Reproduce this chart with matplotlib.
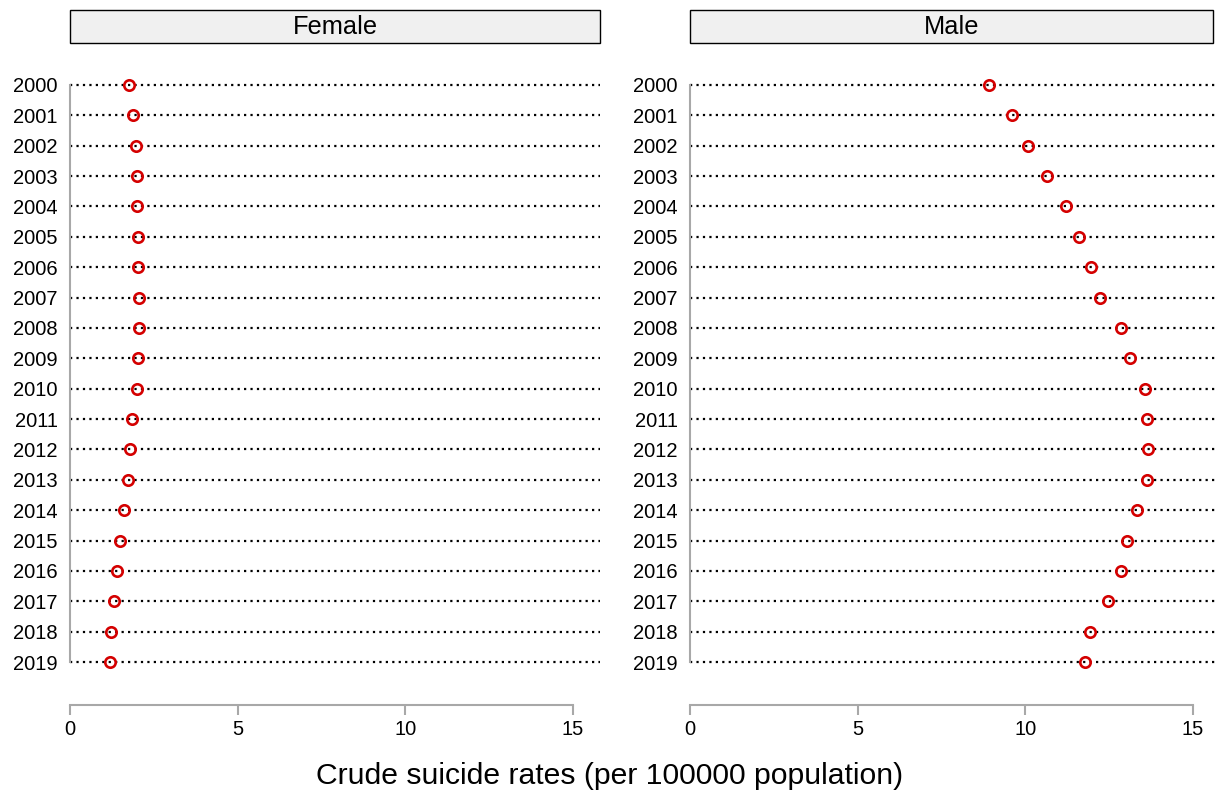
import matplotlib
matplotlib.use("Agg")
import matplotlib.pyplot as plt
from matplotlib.patches import Rectangle

plt.rcParams['font.family'] = ['Liberation Sans', 'DejaVu Sans']

years = [str(y) for y in range(2000, 2020)]
female_rates = [1.77, 1.89, 1.96, 1.99, 2.00, 2.02, 2.04, 2.07, 2.06, 2.02,
                1.99, 1.85, 1.80, 1.73, 1.60, 1.48, 1.41, 1.32, 1.23, 1.20]
male_rates = [8.92, 9.60, 10.09, 10.65, 11.21, 11.59, 11.96, 12.24, 12.84, 13.13,
              13.57, 13.64, 13.67, 13.62, 13.32, 13.02, 12.86, 12.46, 11.93, 11.78]
panels = ["Female", "Male"]
x_ticks = [0, 5, 10, 15]
x_label = "Crude suicide rates (per 100000 population)"

W, H = 1215, 793
fig = plt.figure(figsize=(W / 100, H / 100), dpi=100)

px_per_unit = (573 - 70) / 15.0
row_top, row_step = 85, (662 - 85) / 19.0
ax_top_px, ax_bot_px = 68, 705

panel_x = [(70, 600), (690, 1215)]

for name, rates, (x0, x1) in zip(panels, [female_rates, male_rates], panel_x):
    ax = fig.add_axes([x0 / W, 1 - ax_bot_px / H, (x1 - x0) / W, (ax_bot_px - ax_top_px) / H])
    n = len(years)
    pos = list(range(n))
    ax.set_xlim(0, (x1 - x0) / px_per_unit)
    ax.set_ylim((ax_bot_px - row_top) / row_step, (ax_top_px - row_top) / row_step)
    for p in pos:
        ax.axhline(p, color='black', lw=1.6, ls=(0, (1, 1.9)), zorder=1)
    ax.plot(rates, pos, 'o', ms=7.5, mfc='none', mec='#d40000', mew=1.9, zorder=3,
            clip_on=False)

    for s in ['top', 'right']:
        ax.spines[s].set_visible(False)
    ax.spines['left'].set_bounds(0, n - 1)
    ax.spines['bottom'].set_bounds(0, 15)
    for s in ['left', 'bottom']:
        ax.spines[s].set_color('#a8a8a8')
        ax.spines[s].set_linewidth(1.5)

    ax.set_yticks(pos)
    ax.set_yticklabels(years, fontsize=14.5)
    ax.tick_params(axis='y', length=0, pad=9)
    ax.set_xticks(x_ticks)
    ax.set_xticklabels([str(t) for t in x_ticks], fontsize=14.5)
    ax.tick_params(axis='x', length=7, width=1.5, color='#a8a8a8', pad=4)

    # strip header
    fig.patches.append(Rectangle((x0 / W, 1 - 43 / H), (min(x1, 1213) - x0) / W, 33 / H,
                                 transform=fig.transFigure, facecolor='#f0f0f0',
                                 edgecolor='black', lw=1.0))
    fig.text((x0 + min(x1, 1213)) / 2 / W, 1 - 26.5 / H, name, ha='center', va='center',
             fontsize=18.3)

fig.text(610 / W, 1 - 776 / H, x_label, ha='center', va='center', fontsize=21.7)

fig.savefig("out.png", dpi=100)
